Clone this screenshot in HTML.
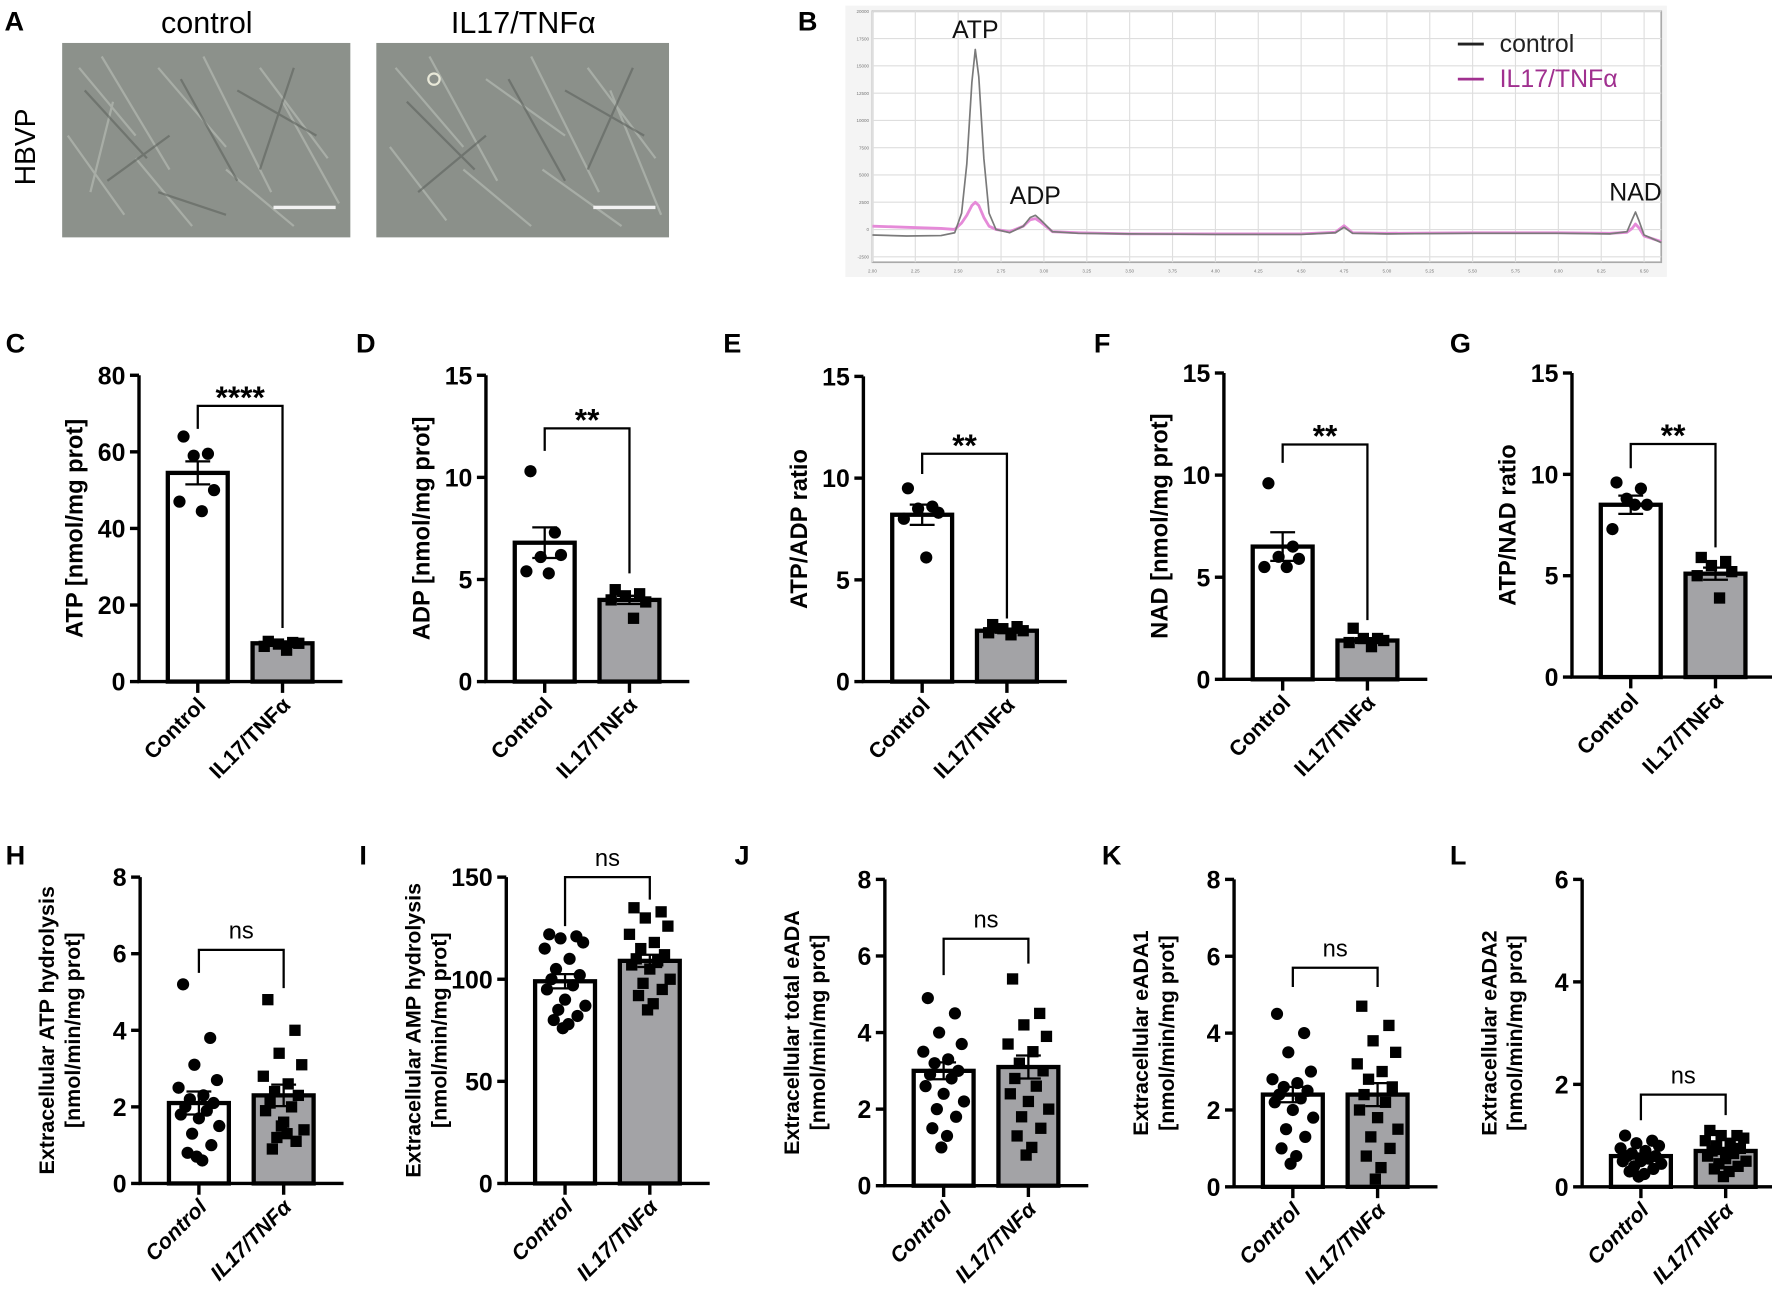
<!DOCTYPE html>
<html><head><meta charset="utf-8">
<style>
html,body{margin:0;padding:0;background:#fff;}
svg{display:block;font-family:"Liberation Sans",Arial,sans-serif;}
</style></head>
<body>
<svg id="fig" width="1772" height="1301" viewBox="0 0 1568 1151" preserveAspectRatio="none" xmlns="http://www.w3.org/2000/svg">
<rect x="0" y="0" width="1568" height="1151" fill="#fff"/>
<!-- Panel A -->
<g>
<text x="4" y="27" font-size="24" font-weight="bold">A</text>
<text x="183" y="29" font-size="27" text-anchor="middle">control</text>
<text x="463" y="29" font-size="27" text-anchor="middle">IL17/TNFα</text>
<text transform="translate(31,130) rotate(-90)" font-size="25" text-anchor="middle">HBVP</text>
<g>
<rect x="55" y="38" width="255" height="172" fill="#8c918b"/>
<g stroke="#b4b9b2" stroke-width="2" opacity="0.7" fill="none">
<path d="M70 60 L120 120 M90 50 L150 150 M140 60 L200 130 M180 50 L240 170 M230 60 L290 140 M60 120 L110 190 M120 140 L170 200 M200 150 L260 200 M250 90 L300 180 M100 90 L80 170"/>
</g>
<g stroke="#5e635d" stroke-width="2" opacity="0.6" fill="none">
<path d="M75 80 L130 140 M160 70 L210 160 M210 80 L280 120 M95 160 L150 120 M260 60 L230 150 M140 170 L200 190"/>
</g>
<rect x="242" y="182" width="55" height="3" fill="#f2f2f2"/>
</g>
<g>
<rect x="333" y="38" width="259" height="172" fill="#8b908a"/>
<g stroke="#b4b9b2" stroke-width="2" opacity="0.7" fill="none">
<path d="M350 60 L410 130 M380 50 L440 160 M430 70 L500 120 M470 50 L530 170 M520 60 L580 140 M345 130 L395 195 M410 150 L470 200 M480 150 L550 200 M540 80 L585 190"/>
</g>
<g stroke="#5e635d" stroke-width="2" opacity="0.6" fill="none">
<path d="M360 90 L420 150 M450 70 L500 160 M500 80 L570 120 M370 170 L430 120 M560 60 L520 150"/>
</g>
<circle cx="384" cy="70" r="5" fill="none" stroke="#e8e8d8" stroke-width="2"/>
<rect x="525" y="182" width="55" height="3" fill="#f2f2f2"/>
</g>
</g>
<!-- Panel B -->
<g id="panelB">
<text x="706" y="27" font-size="24" font-weight="bold">B</text>
<rect x="748" y="5" width="727" height="240" fill="#f4f4f4"/>
<rect x="772" y="10" width="698" height="222" fill="#fff" stroke="#aaa" stroke-width="1.5"/>
</g>
<g id="charts"></g>
</svg>
<script>
// ---------- Chromatogram data ----------
const chromTimes   = [2.00,2.20,2.40,2.48,2.52,2.55,2.58,2.60,2.62,2.65,2.68,2.72,2.80,2.88,2.92,2.95,2.98,3.05,3.20,3.50,4.00,4.50,4.70,4.75,4.80,5.00,5.50,6.00,6.30,6.40,6.43,6.45,6.47,6.50,6.60];
const chromControl = [-500,-600,-550,-300,1500,6000,13500,16500,14000,6500,1500,0,-300,300,1100,1300,900,-200,-350,-400,-450,-450,-300,200,-350,-400,-350,-350,-400,-200,900,1600,800,-500,-1200];
const chromTreated = [ 300, 200, 100, 0,600,1300,2200,2500,2200,1100,300,0,-200,300, 900,1000,700,-200,-300,-400,-400,-400,-250,350,-300,-350,-300,-300,-350,-250,100,500,150,-600,-1100];
const chromYTicks = [-2500,0,2500,5000,7500,10000,12500,15000,17500,20000];
const chromXTicks = [2.00,2.25,2.50,2.75,3.00,3.25,3.50,3.75,4.00,4.25,4.50,4.75,5.00,5.25,5.50,5.75,6.00,6.25,6.50];
const chromPeaks = [["ATP",2.60,16500],["ADP",2.95,1300],["NAD",6.45,1600]];

// ---------- Bar chart data ----------
const catLabels = ["Control","IL17/TNFα"];
const cMeans = [54.5,10.0];   const cSem = [3.0,0.5];
const cCtrl = [64,59.5,59,50,47,44.5]; const cTrt = [10.5,10.2,9.8,10,9.2,8.2];
const dMeans = [6.8,4.0];     const dSem = [0.75,0.2];
const dCtrl = [10.3,7.3,6.1,6.2,5.4,5.3]; const dTrt = [4.5,4.3,4.2,3.9,4.0,3.1];
const eMeans = [8.2,2.5];     const eSem = [0.5,0.1];
const eCtrl = [9.5,8.6,8.5,8.3,8.0,6.1]; const eTrt = [2.8,2.7,2.6,2.5,2.4,2.3];
const fMeans = [6.5,1.9];     const fSem = [0.7,0.12];
const fCtrl = [9.6,6.5,6.0,5.9,5.5,5.5]; const fTrt = [2.5,2.0,2.0,1.9,1.8,1.6];
const gMeans = [8.5,5.1];     const gSem = [0.45,0.3];
const gCtrl = [9.6,9.3,8.8,8.5,7.3,8.5]; const gTrt = [5.9,5.7,5.5,5.2,5.0,3.9];
const hMeans = [2.1,2.3];     const hSem = [0.3,0.28];
const hCtrl = [5.2,3.8,3.1,2.7,2.5,2.3,2.2,2.1,2.0,1.9,1.8,1.7,1.5,1.3,1.0,0.8,0.6,0.7];
const hTrt  = [4.8,4.0,3.4,3.1,2.8,2.6,2.4,2.3,2.1,2.0,1.9,1.6,1.4,1.2,1.1,0.9,1.3,1.5];
const iMeans = [99,109];      const iSem = [3.5,3.0];
const iCtrl = [122,121,120,118,115,110,105,102,100,97,95,90,87,85,82,80,78,76];
const iTrt  = [135,133,130,126,122,118,115,112,110,109,107,105,100,98,95,92,88,85];
const jMeans = [3.0,3.1];     const jSem = [0.22,0.3];
const jCtrl = [4.9,4.5,4.0,3.7,3.5,3.3,3.2,3.0,2.9,2.8,2.6,2.4,2.2,2.0,1.8,1.5,1.3,1.0];
const jTrt  = [5.4,4.5,4.2,3.9,3.7,3.5,3.2,3.0,2.8,2.6,2.4,2.2,2.0,1.8,1.5,1.3,1.0,0.8];
const kMeans = [2.4,2.4];     const kSem = [0.2,0.3];
const kCtrl = [4.5,4.0,3.5,3.0,2.8,2.7,2.6,2.5,2.4,2.3,2.2,2.0,1.8,1.5,1.3,1.0,0.8,0.6];
const kTrt  = [4.7,4.2,3.8,3.5,3.2,3.0,2.8,2.6,2.4,2.2,2.0,1.8,1.5,1.3,1.0,0.8,0.5,0.2];
const lMeans = [0.6,0.7];     const lSem = [0.05,0.06];
const lCtrl = [1.0,0.9,0.85,0.8,0.75,0.7,0.65,0.6,0.6,0.55,0.5,0.5,0.45,0.4,0.35,0.3,0.25,0.2];
const lTrt  = [1.1,1.0,1.0,0.95,0.9,0.85,0.8,0.75,0.7,0.65,0.6,0.55,0.5,0.45,0.4,0.35,0.3,0.2];
const cTicks=[0,20,40,60,80], t15=[0,5,10,15], t8=[0,2,4,6,8], t150=[0,50,100,150], t6=[0,2,4,6];

const NS="http://www.w3.org/2000/svg";
function mk(tag,attrs,parent){const e=document.createElementNS(NS,tag);for(const k in attrs)e.setAttribute(k,attrs[k]);if(parent)parent.appendChild(e);return e;}

// ---------- Draw chromatogram ----------
(function(){
  const g=document.getElementById('panelB');
  const x0=772,x1=1470,y0=10,y1=232;
  const xs=t=>x0+(t-2.0)/(6.6-2.0)*(x1-x0);
  const ys=v=>y1-(v+3000)/(20000+3000)*(y1-y0);
  chromXTicks.forEach(t=>{
    const l=mk('line',{x1:xs(t),x2:xs(t),y1:y0,y2:y1,stroke:'#dedede','stroke-width':1},g);
    
    
    const tx=mk('text',{x:xs(t),y:y1+9,'font-size':4,'text-anchor':'middle',fill:'#777'},g);
    
    
    tx.textContent=t.toFixed(2);
  });
  chromYTicks.forEach(v=>{
    const l=mk('line',{x1:x0,x2:x1,y1:ys(v),y2:ys(v),stroke:'#dedede','stroke-width':1},g);
    
    
    const tx=mk('text',{x:x0-3,y:ys(v)+1.5,'font-size':4,'text-anchor':'end',fill:'#777'},g);
    
    
    tx.textContent=v;
  });
  function series(vals,color,w,name){
    let d='';chromTimes.forEach((t,i)=>{d+=(i?'L':'M')+xs(t).toFixed(1)+' '+ys(vals[i]).toFixed(1);});
    const p=mk('path',{d:d,fill:'none',stroke:color,'stroke-width':w,'stroke-linejoin':'round'},g);
    
    
  }
  series(chromTreated,'#e58ad8',2.5,'treated-trace');
  series(chromControl,'#7a7a7a',1.5,'control-trace');
  chromPeaks.forEach(p=>{
    const tx=mk('text',{x:xs(p[1]),y:ys(p[2])-10,'font-size':22,'text-anchor':'middle',fill:'#111'},g);
    
    
    tx.textContent=p[0];
  });
  const leg=[["control","#222",46],["IL17/TNFα","#a0308f",77]];
  leg.forEach(L=>{
    const ln=mk('line',{x1:1290,x2:1313,y1:L[2]-7,y2:L[2]-7,stroke:L[1],'stroke-width':2.5},g);
    
    
    const tx=mk('text',{x:1327,y:L[2],'font-size':22,fill:L[1]},g);
    
    
    tx.textContent=L[0];
  });
})();

// ---------- Bar charts ----------
const panels=[
 {id:'c',L:'C',lx:5,ly:312,ax:123,y0:603,yt:332,max:80,ticks:cTicks,means:cMeans,sem:cSem,ctrl:cCtrl,trt:cTrt,title:['ATP [nmol/mg prot]'],sig:'****',br:[72,66,14]},
 {id:'d',L:'D',lx:315,ly:312,ax:430,y0:603,yt:332,max:15,ticks:t15,means:dMeans,sem:dSem,ctrl:dCtrl,trt:dTrt,title:['ADP [nmol/mg prot]'],sig:'**',br:[12.4,11.3,5.3]},
 {id:'e',L:'E',lx:640,ly:312,ax:764,y0:603,yt:333,max:15,ticks:t15,means:eMeans,sem:eSem,ctrl:eCtrl,trt:eTrt,title:['ATP/ADP ratio'],sig:'**',br:[11.2,10.2,3.1]},
 {id:'f',L:'F',lx:968,ly:312,ax:1083,y0:601,yt:330,max:15,ticks:t15,means:fMeans,sem:fSem,ctrl:fCtrl,trt:fTrt,title:['NAD [nmol/mg prot]'],sig:'**',br:[11.5,10.6,2.9]},
 {id:'g',L:'G',lx:1283,ly:312,ax:1391,y0:599,yt:330,max:15,ticks:t15,means:gMeans,sem:gSem,ctrl:gCtrl,trt:gTrt,title:['ATP/NAD ratio'],sig:'**',br:[11.5,10.3,6.4]},
 {id:'h',L:'H',lx:5,ly:765,ax:124,y0:1047,yt:776,max:8,ticks:t8,means:hMeans,sem:hSem,ctrl:hCtrl,trt:hTrt,title:['Extracellular ATP hydrolysis','[nmol/min/mg prot]'],sig:'ns',br:[6.1,5.5,5.1],ital:true},
 {id:'i',L:'I',lx:318,ly:765,ax:448,y0:1047,yt:776,max:150,ticks:t150,means:iMeans,sem:iSem,ctrl:iCtrl,trt:iTrt,title:['Extracellular AMP hydrolysis','[nmol/min/mg prot]'],sig:'ns',br:[150,126,139],ital:true},
 {id:'j',L:'J',lx:650,ly:765,ax:783,y0:1049,yt:778,max:8,ticks:t8,means:jMeans,sem:jSem,ctrl:jCtrl,trt:jTrt,title:['Extracellular total eADA','[nmol/min/mg prot]'],sig:'ns',br:[6.45,5.5,5.8],ital:true},
 {id:'k',L:'K',lx:975,ly:765,ax:1092,y0:1050,yt:778,max:8,ticks:t8,means:kMeans,sem:kSem,ctrl:kCtrl,trt:kTrt,title:['Extracellular eADA1','[nmol/min/mg prot]'],sig:'ns',br:[5.7,5.2,5.2],ital:true},
 {id:'l',L:'L',lx:1283,ly:765,ax:1400,y0:1050,yt:778,max:6,ticks:t6,means:lMeans,sem:lSem,ctrl:lCtrl,trt:lTrt,title:['Extracellular eADA2','[nmol/min/mg prot]'],sig:'ns',br:[1.8,1.3,1.4],ital:true}
];
const root=document.getElementById('charts');
const jit=[-14,10,-4,16,-18,4,-8,13,-12,7,-16,0,18,-6,11,-10,3,-2];
panels.forEach(P=>{
  const g=mk('g',{},root);
  
  
  const y=v=>P.y0-v/P.max*(P.y0-P.yt);
  const cx=[P.ax+52,P.ax+127];
  const bw=53;
  const lab=mk('text',{x:P.lx,y:P.ly,'font-size':24,'font-weight':'bold'},g);
  
  
  lab.textContent=P.L;
  P.means.forEach((m,i)=>{
    const r=mk('rect',{x:cx[i]-bw/2,y:y(m),width:bw,height:P.y0-y(m),fill:i?'#a3a3a6':'#fff',stroke:'#000','stroke-width':3.8},g);
    
    
  });
  [P.ctrl,P.trt].forEach((arr,i)=>{
    const spread=arr.length>6?1:0.9;
    arr.forEach((v,k)=>{
      const px=cx[i]+jit[k%jit.length]*spread;
      let e;
      if(i===0){e=mk('circle',{cx:px,cy:y(v),r:5.4,fill:'#000'},g);}
      else{e=mk('rect',{x:px-5,y:y(v)-5,width:10,height:10,fill:'#000'},g);}
      
      
    });
  });
  P.means.forEach((m,i)=>{
    const s=P.sem[i];
    const eb=mk('path',{d:`M${cx[i]} ${y(m+s)}V${y(m-s)}M${cx[i]-11} ${y(m+s)}H${cx[i]+11}M${cx[i]-11} ${y(m-s)}H${cx[i]+11}`,stroke:'#000','stroke-width':2,fill:'none'},g);
    
    
  });
  const ax=mk('path',{d:`M${P.ax} ${P.yt}V${P.y0}H${P.ax+180}`,stroke:'#000','stroke-width':3,fill:'none'},g);
  
  
  P.ticks.forEach(t=>{
    const tk=mk('line',{x1:P.ax-8,x2:P.ax,y1:y(t),y2:y(t),stroke:'#000','stroke-width':3},g);
    
    
    const tl=mk('text',{x:P.ax-12,y:y(t)+8,'font-size':22,'font-weight':'bold','text-anchor':'end'},g);
    
    
    tl.textContent=t;
  });
  cx.forEach((c,i)=>{
    const tk=mk('line',{x1:c,x2:c,y1:P.y0,y2:P.y0+10,stroke:'#000','stroke-width':3},g);
    
    
    const tl=mk('text',{transform:`translate(${c+8},${P.y0+22}) rotate(-45)`,'font-size':19,'font-weight':'bold','text-anchor':'end','font-style':P.ital?'italic':'normal'},g);
    
    
    tl.textContent=catLabels[i];
  });
  const mid=(P.y0+P.yt)/2;
  if(P.title.length===1){
    const t=mk('text',{transform:`translate(${P.ax-50},${mid}) rotate(-90)`,'font-size':21,'font-weight':'bold','text-anchor':'middle'},g);
    
    
    t.textContent=P.title[0];
  } else {
    P.title.forEach((s,k)=>{
      const t=mk('text',{transform:`translate(${P.ax-76+k*23},${mid}) rotate(-90)`,'font-size':19,'font-weight':'bold','text-anchor':'middle'},g);
      
      
      t.textContent=s;
    });
  }
  const b=P.br;
  const br=mk('path',{d:`M${cx[0]} ${y(b[1])}V${y(b[0])}H${cx[1]}V${y(b[2])}`,stroke:'#000','stroke-width':2,fill:'none'},g);
  
  
  const st=mk('text',{x:(cx[0]+cx[1])/2,y:y(b[0])-(P.sig==='ns'?10:-2),'font-size':P.sig==='ns'?21:28,'font-weight':P.sig==='ns'?'normal':'bold','text-anchor':'middle'},g);
  
  
  st.textContent=P.sig;
});
</script>
</body></html>
